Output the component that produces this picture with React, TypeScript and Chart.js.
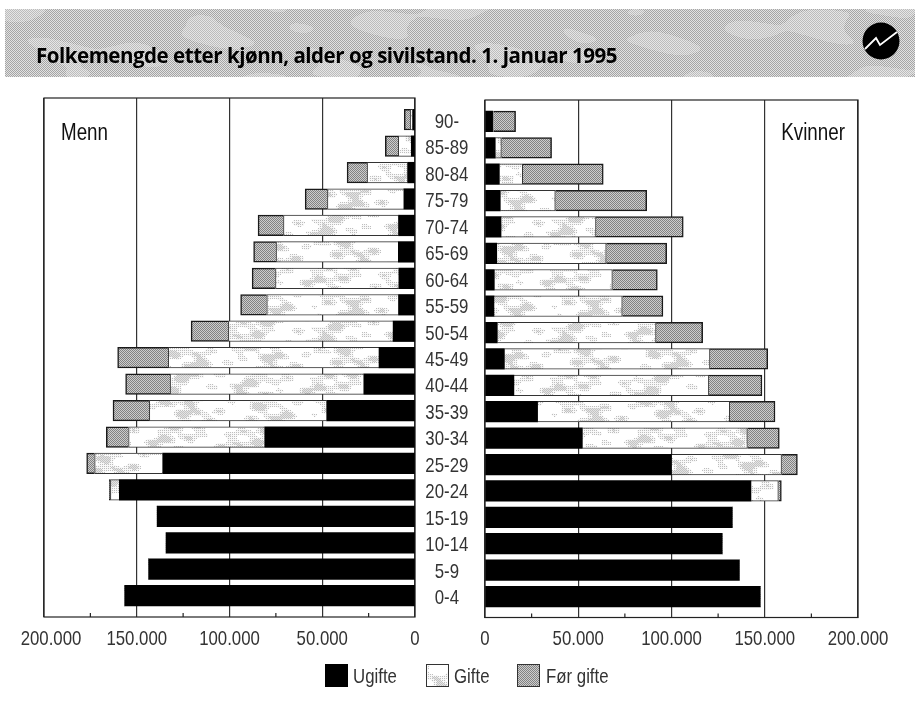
import React, { useEffect, useRef } from "react";
import { Chart, registerables } from "chart.js";

Chart.register(...registerables);

const ageGroups = ["0-4","5-9","10-14","15-19","20-24","25-29","30-34","35-39","40-44","45-49","50-54","55-59","60-64","65-69","70-74","75-79","80-84","85-89","90-"];
const tickValues = [0, 50000, 100000, 150000, 200000];
const minorTicks = [25000, 75000, 125000, 175000];

const menUgifte = [156500,143600,134200,139000,159400,136000,81000,47600,27600,19400,11800,8900,8700,9000,8900,6000,4000,2000,1300];
const menGifte = [0,0,0,0,4800,36700,73400,95600,104400,113600,88800,71000,66500,65900,62000,41200,21800,7000,1300];
const menForGifte = [0,0,0,0,600,4300,12000,19600,24000,27300,20100,14100,12600,12100,13700,12000,10800,7000,3200];

const womenUgifte = [147600,136400,127200,132600,142600,100000,52200,28200,15500,10400,6600,4800,5000,6300,8600,8200,7700,5500,4100];
const womenGifte = [0,0,0,0,14700,59000,88500,103000,104500,110200,85100,68800,63300,58700,50900,29500,12500,3300,400];
const womenForGifte = [0,0,0,0,1600,8500,17100,24300,28500,31000,25000,21800,24100,32400,46800,49000,43200,26900,11900];

const legendLabels = ["Ugifte", "Gifte", "Før gifte"];
const title = "Folkemengde etter kjønn, alder og sivilstand. 1. januar 1995";
const FONT = '"Liberation Sans", sans-serif';

const blotch = (x: number, y: number) =>
  (Math.sin(x * 0.031 + Math.sin(y * 0.09) * 2.5) + Math.sin(x * 0.013 + y * 0.11 + 2) + Math.sin(x * 0.071 - y * 0.07 + 1)) / 3;

function makeTile(w: number, h: number, fn: (x: number, y: number) => number) {
  const c = document.createElement("canvas");
  c.width = w;
  c.height = h;
  const ctx = c.getContext("2d")!;
  const img = ctx.createImageData(w, h);
  for (let y = 0; y < h; y++) {
    for (let x = 0; x < w; x++) {
      const v = fn(x, y);
      const i = (y * w + x) * 4;
      img.data[i] = img.data[i + 1] = img.data[i + 2] = v;
      img.data[i + 3] = 255;
    }
  }
  ctx.putImageData(img, 0, 0);
  return c;
}

function makePatterns(ctx: CanvasRenderingContext2D) {
  const TW = 240;
  const TH = 108;
  const gifte = ctx.createPattern(
    makeTile(TW, TH, (x, y) => {
      const u = (x / TW) * Math.PI * 2;
      const v = (y / TH) * Math.PI * 2;
      const b =
        Math.sin(3 * u + 1.3 * Math.sin(2 * v)) * 0.6 +
        Math.cos(7 * u + 3 * v + 1) * 0.5 +
        Math.sin(11 * u - 6 * v) * 0.4 +
        Math.cos(2 * u + 9 * v) * 0.4;
      if (b > 0.75) return (x + y) % 2 === 0 ? 195 : 228;
      if (b > 0.05) return (x + y) % 2 === 0 && y % 2 === 0 ? 190 : 248;
      return 255;
    }),
    "repeat"
  )!;
  const forGifte = ctx.createPattern(
    makeTile(4, 4, (x, y) => ((x + y) % 2 === 0 ? 130 : 205)),
    "repeat"
  )!;
  return { gifte, forGifte };
}

const framePlugin = {
  id: "frame",
  beforeDatasetsDraw(chart: any) {
    const { ctx, chartArea: a, scales } = chart;
    ctx.save();
    ctx.strokeStyle = "#222";
    ctx.lineWidth = 1.2;
    ctx.strokeRect(a.left, a.top, a.right - a.left, a.bottom - a.top);
    minorTicks.forEach((v) => {
      const x = scales.x.getPixelForValue(v);
      ctx.beginPath();
      ctx.moveTo(x, a.bottom);
      ctx.lineTo(x, a.bottom - 4);
      ctx.stroke();
    });
    ctx.restore();
  },
};

const annotationPlugin = {
  id: "sideLabel",
  afterDraw(chart: any, _args: any, opts: any) {
    const { ctx } = chart;
    ctx.save();
    ctx.fillStyle = "#111";
    ctx.font = `23.5px ${FONT}`;
    ctx.textBaseline = "middle";
    ctx.textAlign = opts.align;
    ctx.fillText(opts.text, opts.x, 131);
    if (opts.legend) {
      const lx = [325, 426, 517];
      const tx = [353, 454, 546];
      ctx.font = `21px ${FONT}`;
      chart.data.datasets.forEach((d: any, i: number) => {
        ctx.fillStyle = d.backgroundColor;
        ctx.fillRect(lx[i], 664, 23, 23);
        ctx.strokeStyle = i === 0 ? "#000" : "#333";
        ctx.lineWidth = 1;
        ctx.strokeRect(lx[i] + 0.5, 664.5, 22, 22);
        ctx.fillStyle = "#333";
        ctx.textAlign = "left";
        ctx.fillText(d.label, tx[i], 675);
      });
    }
    ctx.restore();
  },
};

function buildChart(
  canvas: HTMLCanvasElement,
  side: "left" | "right",
  series: number[][]
) {
  const ctx = canvas.getContext("2d")!;
  // The reference uses a narrow sans; no narrow face is installed, so every label is condensed horizontally.
  const rawFillText = ctx.fillText.bind(ctx);
  (ctx as any).fillText = (t: string, x: number, y: number) => {
    ctx.save();
    ctx.translate(x, ctx.textBaseline === "middle" ? y + 2.5 : y);
    ctx.scale(0.8, 1);
    rawFillText(t, 0, 0);
    ctx.restore();
  };
  const { gifte, forGifte } = makePatterns(ctx);
  const isLeft = side === "left";
  const fills = ["#000", gifte, forGifte];
  const borders = ["#000", "#333", "#1a1a1a"];
  const widths = [0, 1, 1.5];
  return new Chart(canvas, {
    type: "bar",
    data: {
      datasets: series.map((vals, s) => ({
        label: legendLabels[s],
        data: vals.map((v, i) => ({ x: v, y: i })),
        backgroundColor: fills[s] as any,
        borderColor: borders[s],
        borderWidth: vals.map((v) => (v > 0 ? widths[s] : 0)),
        barThickness: 20.6,
        stack: "a",
      })),
    },
    options: {
      indexAxis: "y",
      responsive: false,
      animation: false,
      devicePixelRatio: 1,
      layout: {
        padding: isLeft
          ? { left: 44, right: 430, top: 98, bottom: 48 }
          : { left: 485, right: 57, top: 100, bottom: 47.5 },
      },
      plugins: {
        legend: { display: false },
        tooltip: { enabled: false },
        sideLabel: isLeft
          ? { text: "Menn", x: 61, align: "left", legend: true }
          : { text: "Kvinner", x: 845, align: "right", legend: false },
      } as any,
      scales: {
        x: {
          type: "linear",
          stacked: true,
          reverse: isLeft,
          min: 0,
          max: 200000,
          afterFit: (s: any) => { s.height = 40; },
          afterBuildTicks: (s: any) => { s.ticks = tickValues.map((value) => ({ value })); },
          grid: { display: true, color: "#333", lineWidth: 1.2, drawTicks: false },
          border: { display: false },
          ticks: {
            padding: 7,
            maxRotation: 0,
            autoSkip: false,
            color: "#333",
            font: { family: FONT, size: 21 },
            callback: (v: any) => {
              const label = String(v).replace(/\B(?=(\d{3})+$)/g, ".");
              // The outermost left label sits a little inside its tick in the reference.
              return isLeft && v === 200000 ? `   ${label}` : label;
            },
          },
        },
        y: {
          type: "linear",
          stacked: true,
          offset: false,
          position: "right",
          display: isLeft,
          min: isLeft ? -0.806 : -0.795,
          max: isLeft ? 18.82 : 18.81,
          afterFit: (s: any) => { s.width = isLeft ? 70 : 0; },
          afterBuildTicks: (s: any) => { s.ticks = ageGroups.map((_, value) => ({ value })); },
          grid: { display: false, drawTicks: false, offset: false },
          border: { display: false },
          ticks: {
            padding: 5,
            crossAlign: "center",
            autoSkip: false,
            color: "#333",
            font: { family: FONT, size: 21 },
            callback: (v: any) => ageGroups[v],
          },
        },
      },
    } as any,
    plugins: [framePlugin, annotationPlugin],
  });
}

export default function App() {
  const leftRef = useRef<HTMLCanvasElement>(null);
  const rightRef = useRef<HTMLCanvasElement>(null);
  const bannerRef = useRef<HTMLCanvasElement>(null);

  useEffect(() => {
    const b = bannerRef.current!;
    const bctx = b.getContext("2d")!;
    bctx.drawImage(
      makeTile(b.width, b.height, (x, y) => {
        const k = blotch(x, y);
        if ((x + y) % 2 === 0) return k > 0.3 ? 188 : 165;
        return k > 0.3 ? 230 : 226;
      }),
      0,
      0
    );
    const l = buildChart(leftRef.current!, "left", [menUgifte, menGifte, menForGifte]);
    const r = buildChart(rightRef.current!, "right", [womenUgifte, womenGifte, womenForGifte]);
    return () => {
      l.destroy();
      r.destroy();
    };
  }, []);

  const abs: React.CSSProperties = { position: "absolute", left: 0, top: 0, display: "block" };
  return (
    <div style={{ position: "absolute", left: 0, top: 0, width: 915, height: 705, overflow: "hidden", background: "#fff" }}>
      <canvas ref={bannerRef} width={910} height={68} style={{ ...abs, left: 5, top: 9 }} />
      <div
        style={{
          position: "absolute",
          left: 36,
          top: 41,
          fontFamily: '"Open Sans", sans-serif',
          fontWeight: 700,
          fontSize: 20.5,
          lineHeight: "28px",
          letterSpacing: "-0.47px",
          color: "#000",
          whiteSpace: "nowrap",
        }}
      >
        {title}
      </div>
      <svg width={915} height={705} style={abs}>
        <circle cx={881} cy={41} r={18.5} fill="#000" />
        <path d="M865 49 L876 38 L880 45 L897 32" fill="none" stroke="#fff" strokeWidth={1.8} />
      </svg>
      <canvas ref={leftRef} width={915} height={705} style={abs} />
      <canvas ref={rightRef} width={915} height={705} style={abs} />
    </div>
  );
}
